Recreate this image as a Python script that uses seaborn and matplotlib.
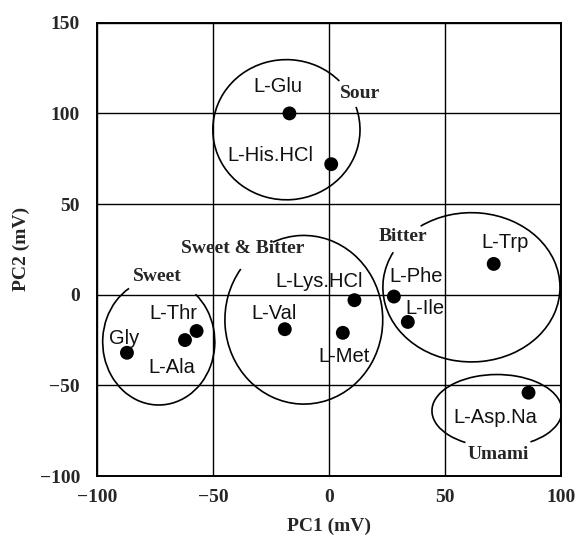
import numpy as np
import pandas as pd
import matplotlib
matplotlib.use("Agg")
import matplotlib.pyplot as plt
from matplotlib.patches import Arc
import seaborn as sns

# Amino acid taste sensor PCA scores (mV)
amino_acids = ["L-Glu", "L-His.HCl", "L-Trp", "L-Phe", "L-Ile", "L-Lys.HCl",
               "L-Met", "L-Val", "L-Asp.Na", "Gly", "L-Thr", "L-Ala"]
pc1 = [-17, 1, 71, 28, 34, 11, 6, -19, 86, -87, -57, -62]
pc2 = [100, 72, 17, -1, -15, -3, -21, -19, -54, -32, -20, -25]

# label anchor (x, baseline y) for each amino acid
label_x = [-22, -25, 76, 37.5, 41.4, -4, 6.7, -23.7, 71.5, -88.4, -67, -67.5]
label_y = [112, 74, 26, 7, -10.7, 4.2, -37, -13.5, -71, -27, -13.5, -43]

# taste groups: name, centre, width, height, label position, open gap (parametric deg)
groups = ["Sour", "Sweet", "Sweet & Bitter", "Bitter", "Umami"]
group_cx = [-18.3, -73.3, -10.8, 61.4, 72.4]
group_cy = [91, -26, -13.8, 4.1, -64]
group_w = [63.4, 48.3, 68, 76.3, 56]
group_h = [77.3, 69.6, 93, 82.3, 40]
group_lx = [13.4, -74, -37, 32, 73]
group_ly = [111, 10, 25.4, 32, -88]
gap_start = [19, 49, 113, 125, 241]
gap_end = [44, 122, 143, 152, 301]

x_ticks = [-100, -50, 0, 50, 100]
y_ticks = [-100, -50, 0, 50, 100, 150]

sns.set_theme(style="white")
plt.rcParams["font.family"] = ["Liberation Serif", "DejaVu Serif"]
plt.rcParams["axes.unicode_minus"] = True

df = pd.DataFrame({"PC1": pc1, "PC2": pc2, "name": amino_acids})

fig = plt.figure(figsize=(5.76, 5.41), dpi=100)
ax = fig.add_axes([0.168, 0.120, 0.806, 0.838])

ax.set_xlim(-100, 100)
ax.set_ylim(-100, 150)
ax.set_xticks(x_ticks)
ax.set_yticks(y_ticks)
ax.grid(True, color="black", linewidth=1.0)
ax.set_axisbelow(True)
for sp in ax.spines.values():
    sp.set_color("black")
    sp.set_linewidth(1.4)

sns.scatterplot(data=df, x="PC1", y="PC2", ax=ax, s=100, color="black",
                edgecolor="none", zorder=3, legend=False)

def geo_angle(t, w, h):
    t = np.deg2rad(t)
    return np.rad2deg(np.arctan2(h * np.sin(t), w * np.cos(t)))

for i in range(len(groups)):
    w, h = group_w[i], group_h[i]
    th1 = geo_angle(gap_end[i], w, h)
    th2 = geo_angle(gap_start[i], w, h)
    arc = Arc((group_cx[i], group_cy[i]), w, h, theta1=th1, theta2=th2,
              color="black", linewidth=1.2, zorder=2)
    ax.add_patch(arc)
    ax.text(group_lx[i], group_ly[i], groups[i], ha="center", va="center",
            fontsize=14, fontweight="bold", family=["Liberation Serif"], zorder=4)

for name, x, y in zip(amino_acids, label_x, label_y):
    ax.text(x, y, name, ha="center", va="baseline", fontsize=14.5,
            family=["Liberation Sans"], color="#111111", zorder=4)

ax.tick_params(axis="both", length=0, labelsize=14)
ax.tick_params(axis="x", pad=9)
ax.tick_params(axis="y", pad=12)
for lab in ax.get_xticklabels() + ax.get_yticklabels():
    lab.set_fontweight("bold")

ax.set_xlabel("PC1 (mV)", fontsize=14, fontweight="bold", labelpad=9)
ax.set_ylabel("PC2 (mV)", fontsize=14, fontweight="bold", labelpad=7)

fig.savefig("out.png", dpi=100)
